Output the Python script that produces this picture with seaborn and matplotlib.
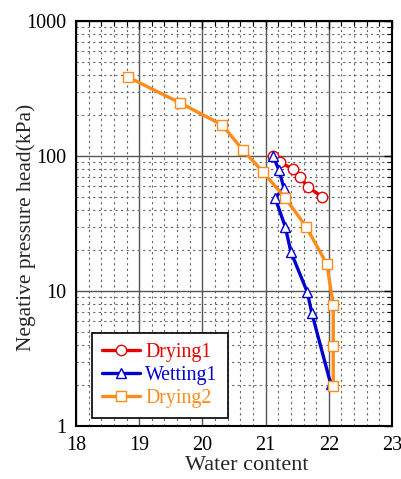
import matplotlib
matplotlib.use("Agg")
import matplotlib.pyplot as plt
import seaborn as sns
import pandas as pd
from matplotlib.ticker import MultipleLocator, LogLocator, NullFormatter, FixedLocator, FixedFormatter

drying1_x = [21.12, 21.23, 21.43, 21.54, 21.67, 21.89]
drying1_y = [100, 90, 80, 70, 59, 50]
wetting1_x = [21.12, 21.21, 21.29, 21.15, 21.31, 21.40, 21.66, 21.73, 22.03]
wetting1_y = [100, 79, 58, 49, 30, 19.5, 9.8, 6.9, 2.05]
drying2_x = [18.82, 19.65, 20.31, 20.64, 20.96, 21.31, 21.64, 21.97, 22.07, 22.07, 22.07]
drying2_y = [385, 247, 170, 111, 76, 49, 30, 15.8, 7.9, 3.9, 1.98]
series_names = ["Drying1", "Wetting1", "Drying2"]
colors = ["#e60000", "#0000d0", "#ff8c1a"]
markers = ["o", "^", "s"]

frames = []
for name, xs, ys in zip(series_names, [drying1_x, wetting1_x, drying2_x], [drying1_y, wetting1_y, drying2_y]):
    frames.append(pd.DataFrame({"x": xs, "y": ys, "series": name, "order": range(len(xs))}))
df = pd.concat(frames, ignore_index=True)

sns.set_style("white")
plt.rcParams["font.family"] = ["Liberation Serif", "DejaVu Serif"]

fig = plt.figure(figsize=(4.01, 4.79), dpi=100)
ax = fig.add_axes([76/401, 1 - 426/479, (392-76)/401, (426-21)/479])

for name, c, m in zip(series_names, colors, markers):
    sub = df[df.series == name]
    sns.lineplot(data=sub, x="x", y="y", sort=False, estimator=None, ax=ax, color=c, lw=2.4,
                 marker=m, markersize=7.5, markerfacecolor="white", markeredgecolor=c,
                 markeredgewidth=1.0, label=name, zorder=3)

ax.set_yscale("log")
ax.set_xlim(18, 23)
ax.set_ylim(1, 1000)
ax.xaxis.set_major_locator(MultipleLocator(1))
ax.xaxis.set_minor_locator(MultipleLocator(0.2))
ax.yaxis.set_major_locator(FixedLocator([1, 10, 100, 1000]))
ax.yaxis.set_major_formatter(FixedFormatter(["1", "10", "100", "1000"]))
ax.yaxis.set_minor_locator(LogLocator(base=10, subs=range(2, 10)))
ax.yaxis.set_minor_formatter(NullFormatter())

ax.grid(True, which="major", color="#555555", lw=1.0, ls="-", zorder=0)
ax.grid(True, which="minor", color="#666666", lw=0.8, ls=(0, (2, 3)), zorder=0)
ax.set_axisbelow(True)

ax.tick_params(which="both", direction="in", top=True, right=True, labelsize=14.5, colors="black")
ax.tick_params(which="major", length=6, width=1.0)
ax.tick_params(axis="x", which="major", pad=7)
ax.tick_params(axis="y", which="major", pad=7)
ax.tick_params(which="minor", length=3.5, width=0.8)
for s in ax.spines.values():
    s.set_linewidth(1.5)
    s.set_color("black")

ax.set_xlabel("Water content", fontsize=16)
ax.xaxis.set_label_coords(0.54, -0.075)
ax.set_ylabel("Negative pressure head(kPa)", fontsize=15.5)
ax.yaxis.set_label_coords(-0.125, 0.49)

leg = ax.legend(loc="lower left", bbox_to_anchor=(0.05, 0.02), fontsize=14.3, frameon=True,
                fancybox=False, edgecolor="black", handlelength=1.95, borderpad=0.5,
                labelspacing=0.2, handletextpad=0.25, borderaxespad=0)
leg.get_frame().set_linewidth(1.2)
leg.get_frame().set_alpha(1)
for t, c in zip(leg.get_texts(), colors):
    t.set_color(c)

fig.savefig("out.png", dpi=100)
